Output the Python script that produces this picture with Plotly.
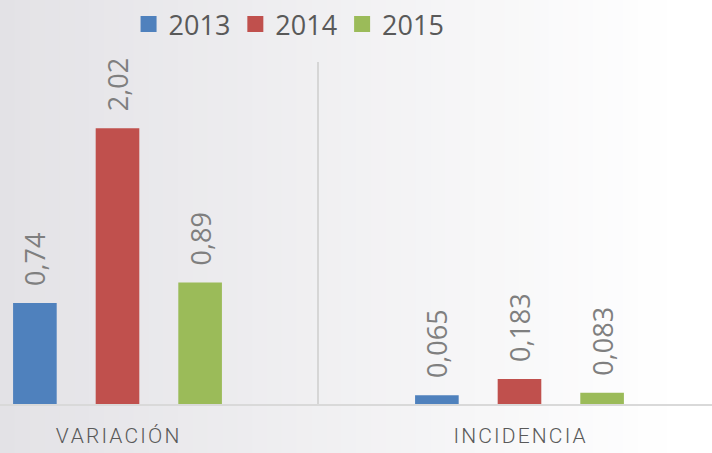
import plotly.graph_objects as go

# Data
categories = ["VARIACIÓN", "INCIDENCIA"]
tick_labels = ["\u200a".join(c) for c in categories]
years = ["2013", "2014", "2015"]
values_2013 = [0.74, 0.065]
values_2014 = [2.02, 0.183]
values_2015 = [0.89, 0.083]
colors = ["#4f81bd", "#c0504d", "#9bbb59"]

series = [values_2013, values_2014, values_2015]


def fmt(v):
    return ("%g" % v).replace(".", ",")


fig = go.Figure()
for name, vals, col in zip(years, series, colors):
    fig.add_trace(go.Bar(
        x=categories, y=vals, name=name, showlegend=False,
        marker=dict(color=col, line=dict(width=0)),
        text=["\u00a0\u00a0" + fmt(v) for v in vals],
        textposition="outside", textangle=-90, constraintext="none",
        textfont=dict(family="Open Sans, sans-serif", size=27, color="#7f7f7f"),
        cliponaxis=False,
    ))

# legend entries with larger square swatches
for name, col in zip(years, colors):
    fig.add_trace(go.Scatter(
        x=[None], y=[None], name=name, mode="markers",
        marker=dict(symbol="square", size=16, color=col),
    ))

# soft horizontal background gradient (grey on the left, white on the right)
shapes = []
n = 48
c0 = (0xe3, 0xe2, 0xe6)
c1 = (0xff, 0xff, 0xff)
for i in range(n):
    t = min(1.0, (i + 0.5) / n * 1.05)
    c = tuple(int(round(a + (b - a) * t)) for a, b in zip(c0, c1))
    shapes.append(dict(
        type="rect", xref="paper", yref="paper", layer="below",
        x0=i / n, x1=(i + 1) / n + 0.002, y0=-0.2, y1=1.2,
        fillcolor="rgb(%d,%d,%d)" % c, line=dict(width=0),
    ))

fig.update_layout(
    width=712, height=453,
    margin=dict(l=0, r=0, t=62, b=49),
    paper_bgcolor="#ececec",
    plot_bgcolor="rgba(0,0,0,0)",
    barmode="group", bargap=0.3835, bargroupgap=0.472,
    separators=",.",
    shapes=shapes,
    showlegend=True,
    legend=dict(
        orientation="h", x=0.406, xanchor="center", y=1.0, yref="container",
        yanchor="top", font=dict(family="Open Sans, sans-serif", size=27, color="#595959"),
        bgcolor="rgba(0,0,0,0)", itemwidth=30, itemsizing="trace", traceorder="normal",
    ),
    xaxis=dict(
        type="category", range=[-0.2923, 1.4789],
        tickvals=categories, ticktext=tick_labels,
        tickson="boundaries", showgrid=True, gridcolor="#d6d6d6", gridwidth=2,
        showline=True, linecolor="#d9d9d9", linewidth=2,
        ticks="", ticklen=0, ticklabelstandoff=12,
        tickfont=dict(family="Roboto, sans-serif", size=21, weight=300, color="#595959"),
        fixedrange=True,
    ),
    yaxis=dict(
        range=[0, 2.505], visible=False, showgrid=False, zeroline=False,
    ),
)

fig.write_html("out.html")
